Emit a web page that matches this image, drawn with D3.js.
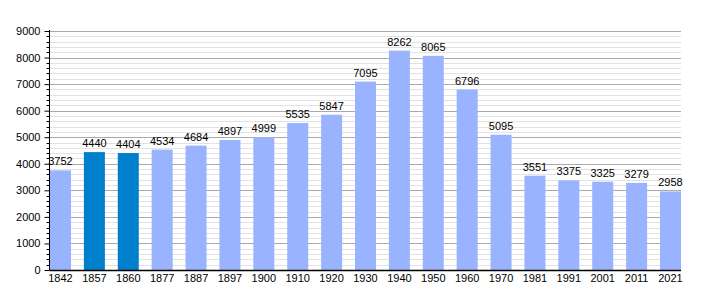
<!DOCTYPE html>
<meta charset="utf-8">
<html>
<head>
	<script src="https://d3js.org/d3.v7.min.js"></script>
	<style>
		body { margin: 0; background: #fff; }
		text { font-family: "Liberation Sans", Arial, sans-serif; font-size: 11px; fill: #000; }
	</style>
</head>
<body>
	<div id="chart"></div>
	<script>
		// Data
		var years = ["1842","1857","1860","1877","1887","1897","1900","1910","1920","1930","1940","1950","1960","1970","1981","1991","2001","2011","2021"];
		var population = [3752,4440,4404,4534,4684,4897,4999,5535,5847,7095,8262,8065,6796,5095,3551,3375,3325,3279,2958];
		var highlighted = ["1857","1860"];
		var yTicks = [0,1000,2000,3000,4000,5000,6000,7000,8000,9000];

		var width = 710, height = 300,
			plotLeft = 49.5, plotRight = 681, plotTop = 31, plotBottom = 270,
			barWidth = 21;

		var svg = d3.select("#chart").append("svg")
			.attr("width", width)
			.attr("height", height);

		var x = d3.scalePoint()
			.domain(years)
			.range([60.5, 670.5]);

		var y = d3.scaleLinear()
			.domain([0, 9000])
			.range([plotBottom, plotTop]);

		function yPix(d) { return Math.round(y(d)) + 0.5; }

		// Minor grid lines every 200
		var minor = d3.range(200, 9001, 200).filter(function(v) { return v % 1000 !== 0; });
		svg.append("g").selectAll("line")
			.data(minor)
			.enter().append("line")
			.attr("x1", plotLeft).attr("x2", plotRight)
			.attr("y1", yPix).attr("y2", yPix)
			.attr("stroke", "#e2e2e2");

		// Major grid lines
		svg.append("g").selectAll("line")
			.data(yTicks.slice(1))
			.enter().append("line")
			.attr("x1", plotLeft).attr("x2", plotRight)
			.attr("y1", yPix).attr("y2", yPix)
			.attr("stroke", "#a9a9a9");

		// Bars
		svg.append("g").selectAll("rect")
			.data(population)
			.enter().append("rect")
			.attr("x", function(d, i) { return x(years[i]) - barWidth / 2; })
			.attr("y", function(d) { return y(d); })
			.attr("width", barWidth)
			.attr("height", function(d) { return y(0) - y(d); })
			.attr("fill", function(d, i) { return highlighted.indexOf(years[i]) >= 0 ? "#0080cc" : "#99b3ff"; });

		// Bar labels
		svg.append("g").selectAll("text")
			.data(population)
			.enter().append("text")
			.attr("x", function(d, i) { return x(years[i]); })
			.attr("y", function(d) { return y(d) - 5; })
			.attr("text-anchor", "middle")
			.text(function(d) { return d; });

		// Y axis minor ticks
		svg.append("g").selectAll("line")
			.data(minor)
			.enter().append("line")
			.attr("x1", plotLeft - 3).attr("x2", plotLeft)
			.attr("y1", yPix).attr("y2", yPix)
			.attr("stroke", "#000");

		// Y axis
		var yAxis = svg.append("g")
			.attr("transform", "translate(" + plotLeft + ",0)")
			.call(d3.axisLeft(y).tickValues(yTicks).tickSize(5).tickPadding(4).tickFormat(d3.format("d")));
		yAxis.attr("font-family", null).attr("font-size", null);
		yAxis.select(".domain").attr("d", "M0," + (plotTop - 1) + "V" + plotBottom);

		// X axis line
		svg.append("line")
			.attr("x1", plotLeft).attr("x2", plotRight)
			.attr("y1", plotBottom + 0.5).attr("y2", plotBottom + 0.5)
			.attr("stroke", "#000").attr("stroke-width", 1.5);

		// X labels
		svg.append("g").selectAll("text")
			.data(years)
			.enter().append("text")
			.attr("x", function(d) { return x(d); })
			.attr("y", 282)
			.attr("text-anchor", "middle")
			.text(function(d) { return d; });
	</script>
</body>
</html>
